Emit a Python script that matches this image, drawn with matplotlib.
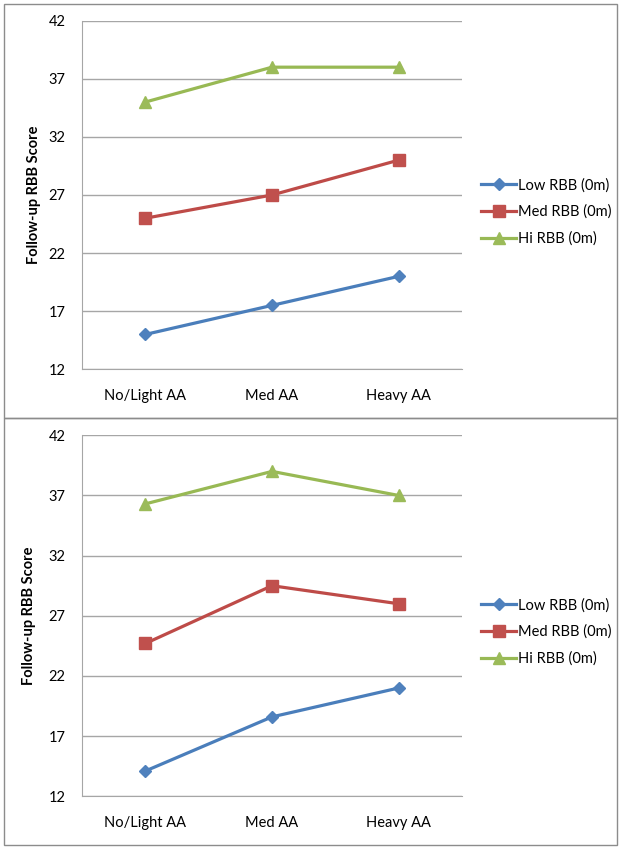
import matplotlib
matplotlib.use('Agg')
import matplotlib.pyplot as plt
from matplotlib.patches import Rectangle

plt.rcParams['font.family'] = ['Lato', 'DejaVu Sans']

categories = ['No/Light AA', 'Med AA', 'Heavy AA']
series_names = ['Low RBB (0m)', 'Med RBB (0m)', 'Hi RBB (0m)']
yticks = [12, 17, 22, 27, 32, 37, 42]

# top chart
top_low = [15, 17.5, 20]
top_med = [25, 27, 30]
top_hi = [35, 38, 38]

# bottom chart
bot_low = [14.1, 18.6, 21]
bot_med = [24.7, 29.5, 28]
bot_hi = [36.3, 39, 37]

line_colors = ['#4A7EBB', '#BE4B48', '#98B954']
marker_colors = ['#4F81BD', '#C0504D', '#9BBB59']
markers = ['D', 's', '^']
msizes = [6, 8, 8]

W, H = 622, 850
fig = plt.figure(figsize=(W / 100, H / 100), dpi=100)

# panel frames (pixel coords)
for (x0, y0, x1, y1) in [(4, 4, 617, 418), (4, 418, 617, 845)]:
    fig.patches.append(Rectangle((x0 / W, 1 - y1 / H), (x1 - x0) / W, (y1 - y0) / H,
                                 transform=fig.transFigure, fill=False,
                                 edgecolor='#8c8c8c', lw=1))


def draw(ax, data, label_x, legend_y):
    x = range(len(categories))
    for vals, lc, mc, m, ms, name in zip(data, line_colors, marker_colors, markers, msizes, series_names):
        ax.plot(x, vals, color=lc, lw=2.3, marker=m, markersize=ms,
                markerfacecolor=mc, markeredgecolor=mc, label=name)
    ax.set_xlim(-0.5, 2.5)
    ax.set_ylim(12, 42)
    ax.set_yticks(yticks)
    ax.set_xticks(list(x))
    ax.set_xticklabels(categories)
    ax.yaxis.grid(True, color='#a6a6a6', lw=1)
    ax.set_axisbelow(True)
    for s in ['top', 'right']:
        ax.spines[s].set_visible(False)
    for s in ['left', 'bottom']:
        ax.spines[s].set_color('#a6a6a6')
    ax.tick_params(axis='both', length=0, labelsize=10.5, colors='black')
    ax.tick_params(axis='y', pad=12)
    ax.tick_params(axis='x', pad=14)
    ax.set_ylabel('Follow-up RBB Score', fontsize=10.5, fontweight='bold')
    ax.yaxis.set_label_coords(label_x, 0.5)
    ax.legend(loc='center left', bbox_to_anchor=(481 / W, 1 - legend_y / H),
              bbox_transform=fig.transFigure, frameon=False, fontsize=10.5,
              borderpad=0, borderaxespad=0, handlelength=2.4, handletextpad=0.15,
              labelspacing=0.85)


ax1 = fig.add_axes([82 / W, 1 - 369.3 / H, 380 / W, 348.6 / H])
draw(ax1, [top_low, top_med, top_hi], -0.108, 212)

ax2 = fig.add_axes([82 / W, 1 - 796.3 / H, 380 / W, 361 / H])
draw(ax2, [bot_low, bot_med, bot_hi], -0.122, 632)

fig.savefig('out.png', dpi=100)
